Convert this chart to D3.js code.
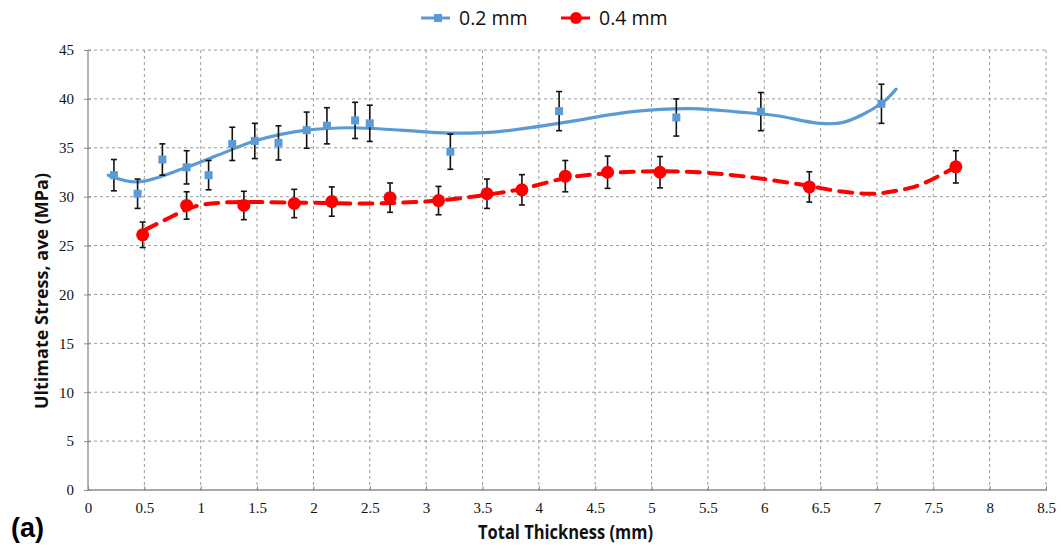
<!DOCTYPE html>
<html><head><meta charset="utf-8">
<script src="https://cdn.jsdelivr.net/npm/d3@7"></script>
<style>body{margin:0;background:#fff}svg{display:block}
.tk text{font-family:"Liberation Serif","DejaVu Serif",serif;font-size:15px;fill:#111}</style>
</head><body>
<svg id="c" width="1061" height="549"></svg>
<script>
// ---- data ----
const xTicks = [0,0.5,1,1.5,2,2.5,3,3.5,4,4.5,5,5.5,6,6.5,7,7.5,8,8.5];
const yTicks = [0,5,10,15,20,25,30,35,40,45];
const seriesNames = ["0.2 mm","0.4 mm"];
// 0.2 mm points: thickness, mean, error
const blueX = [0.23,0.44,0.66,0.875,1.07,1.28,1.48,1.69,1.94,2.12,2.37,2.50,3.215,4.18,5.22,5.97,7.04];
const blueY = [32.2,30.3,33.8,33.0,32.2,35.4,35.7,35.5,36.8,37.25,37.8,37.5,34.6,38.75,38.1,38.7,39.5];
const blueE = [1.6,1.5,1.6,1.7,1.5,1.7,1.8,1.75,1.85,1.85,1.85,1.85,1.8,2.0,1.9,1.95,2.0];
// 0.4 mm points
const redX = [0.485,0.875,1.383,1.83,2.163,2.68,3.11,3.54,3.85,4.235,4.61,5.075,6.40,7.70];
const redY = [26.1,29.1,29.1,29.3,29.5,29.9,29.6,30.3,30.7,32.1,32.5,32.5,31.0,33.05];
const redE = [1.3,1.4,1.45,1.45,1.5,1.5,1.45,1.5,1.55,1.6,1.65,1.6,1.55,1.65];
// trendline curves
const blueTrendX = [0.18,0.44,0.875,1.155,1.48,1.935,2.34,2.77,3.21,3.59,4.18,4.83,5.36,5.78,6.1,6.49,6.7,7.036,7.17];
const blueTrendY = [32.2,31.5,33.0,34.25,35.7,36.8,37.05,36.8,36.5,36.6,37.5,38.7,39.0,38.65,38.3,37.5,37.6,39.5,41.0];
const redTrendX = [0.505,0.68,0.95,1.21,1.806,2.485,2.9,3.11,3.54,3.85,4.24,4.61,5.075,5.42,5.72,6.0,6.40,6.64,6.96,7.17,7.38,7.70];
const redTrendY = [26.6,27.6,29.0,29.4,29.4,29.3,29.45,29.6,30.2,30.8,31.9,32.4,32.6,32.5,32.2,31.8,31.1,30.6,30.3,30.6,31.2,33.05];

const m={l:88,r:1046,t:50,b:490};
const svg=d3.select("#c");
const x=d3.scaleLinear().domain([0,8.5]).range([m.l,m.r]);
const y=d3.scaleLinear().domain([0,45]).range([m.b,m.t]);
const BLUE="#5b9bd5", RED="#ff0000";

// grid
const g=svg.append("g");
g.selectAll(".hg").data(yTicks.filter(d=>d>0)).join("line")
 .attr("x1",m.l).attr("x2",m.r).attr("y1",d=>y(d)).attr("y2",d=>y(d))
 .attr("stroke","#9a9a9a").attr("stroke-width",1).attr("stroke-dasharray","3,3");
g.selectAll(".vg").data(xTicks.filter(d=>d>0)).join("line")
 .attr("y1",m.t).attr("y2",m.b).attr("x1",d=>x(d)).attr("x2",d=>x(d))
 .attr("stroke","#9a9a9a").attr("stroke-width",1).attr("stroke-dasharray","3,3");

// axes
const yAx=svg.append("g").attr("class","tk").attr("transform",`translate(${m.l},0)`)
 .call(d3.axisLeft(y).tickValues(yTicks).tickSize(4).tickPadding(10).tickFormat(d3.format("d")));
const xAx=svg.append("g").attr("class","tk").attr("transform",`translate(0,${m.b})`)
 .call(d3.axisBottom(x).tickValues(xTicks).tickSize(0).tickPadding(12).tickFormat(d=>String(d)));
[yAx,xAx].forEach(a=>{
  a.attr("font-family",null).attr("font-size",null);
  a.select(".domain").attr("stroke","#8c8c8c").attr("stroke-width",1.3);
  a.selectAll(".tick line").attr("stroke","#8c8c8c");
});
yAx.select(".domain").attr("d",`M0,${m.t}V${m.b}`);
xAx.select(".domain").attr("d",`M${m.l},0H${m.r}`);
yAx.selectAll(".tick line").attr("x1",3);
xAx.selectAll(".tick line").attr("y1",-4).attr("y2",1);

// axis titles
svg.append("text").attr("transform",`translate(48,291) rotate(-90)`)
 .attr("text-anchor","middle").attr("font-family","'Open Sans','Noto Sans',sans-serif")
 .attr("font-weight","bold").attr("font-size",18).attr("fill","#111").text("Ultimate Stress, ave (MPa)");
svg.append("text").attr("x",478).attr("y",539)
 .attr("textLength",175).attr("lengthAdjust","spacingAndGlyphs")
 .attr("font-family","'Open Sans','Noto Sans',sans-serif")
 .attr("font-weight","bold").attr("font-size",19).attr("fill","#111").text("Total Thickness (mm)");
svg.append("text").attr("x",11).attr("y",537)
 .attr("font-family","'Liberation Sans',Arial,sans-serif").attr("font-weight","bold").attr("font-size",27).attr("fill","#000").text("(a)");

// trendlines
const line=d3.line().x(d=>x(d[0])).y(d=>y(d[1])).curve(d3.curveCatmullRom.alpha(0.5));
svg.append("path").datum(blueTrendX.map((v,i)=>[v,blueTrendY[i]]))
 .attr("d",line).attr("fill","none").attr("stroke",BLUE).attr("stroke-width",3.2).attr("stroke-linecap","round");
svg.append("path").datum(redTrendX.map((v,i)=>[v,redTrendY[i]]))
 .attr("d",line).attr("fill","none").attr("stroke",RED).attr("stroke-width",4).attr("stroke-dasharray","13,9").attr("stroke-linecap","round");

// error bars
function errBars(xs,ys,es){
  const gg=svg.append("g").attr("stroke","#111").attr("stroke-width",1.6);
  xs.forEach((xv,i)=>{
    const px=x(xv),t=y(ys[i]+es[i]),b=y(ys[i]-es[i]);
    gg.append("line").attr("x1",px).attr("x2",px).attr("y1",t).attr("y2",b);
    gg.append("line").attr("x1",px-3).attr("x2",px+3).attr("y1",t).attr("y2",t);
    gg.append("line").attr("x1",px-3).attr("x2",px+3).attr("y1",b).attr("y2",b);
  });
}
errBars(blueX,blueY,blueE);
errBars(redX,redY,redE);

// markers
svg.append("g").selectAll("rect").data(blueX.map((v,i)=>[v,blueY[i]])).join("rect")
 .attr("x",d=>x(d[0])-4).attr("y",d=>y(d[1])-4).attr("width",8).attr("height",8).attr("fill",BLUE);
svg.append("g").selectAll("circle").data(redX.map((v,i)=>[v,redY[i]])).join("circle")
 .attr("cx",d=>x(d[0])).attr("cy",d=>y(d[1])).attr("r",6.5).attr("fill",RED);

// legend
const lg=svg.append("g");
lg.append("line").attr("x1",421).attr("x2",450).attr("y1",18).attr("y2",18).attr("stroke",BLUE).attr("stroke-width",3);
lg.append("rect").attr("x",434).attr("y",14).attr("width",8).attr("height",8).attr("fill",BLUE);
lg.append("text").attr("x",459).attr("y",25).attr("font-family","'Open Sans','Noto Sans',sans-serif").attr("font-size",19.5).attr("fill","#111").text(seriesNames[0]);
lg.append("line").attr("x1",561).attr("x2",590).attr("y1",18).attr("y2",18).attr("stroke",RED).attr("stroke-width",3);
lg.append("circle").attr("cx",576).attr("cy",18).attr("r",6).attr("fill",RED);
lg.append("text").attr("x",599).attr("y",25).attr("font-family","'Open Sans','Noto Sans',sans-serif").attr("font-size",19.5).attr("fill","#111").text(seriesNames[1]);
</script>
</body></html>
